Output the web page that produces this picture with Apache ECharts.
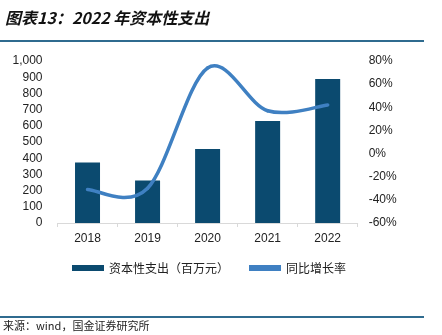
<!DOCTYPE html>
<html><head><meta charset="utf-8">
<script src="https://cdn.jsdelivr.net/npm/echarts@6/dist/echarts.min.js"></script>
<style>html,body{margin:0;padding:0;background:#fff}#c{width:442px;height:335px}</style>
</head><body><div id="c"></div>
<script>
var categories = ['2018','2019','2020','2021','2022'];
var capex = [374, 263, 457, 630, 889];
var growth = [-31, -30, 74, 37, 42];
var seriesNames = ['资本性支出（百万元）', '同比增长率'];
var titleText = '图表13：2022 年资本性支出';
var sourceText = '来源：wind，国金证券研究所';

var chart = echarts.init(document.getElementById('c'));
var font = '"Noto Sans CJK SC", "Liberation Sans", sans-serif';
var lineColor = '#3f80c2';

function renderSmooth(params, api) {
  var i = params.dataIndex;
  var n = categories.length;
  if (i >= n - 1) return null;
  function P(k) {
    k = Math.max(0, Math.min(n - 1, k));
    return api.coord([api.value(0, k), api.value(1, k)]);
  }
  var p0 = P(i - 1), p1 = P(i), p2 = P(i + 1), p3 = P(i + 2);
  var t = 1 / 6;
  return {
    type: 'bezierCurve',
    shape: {
      x1: p1[0], y1: p1[1], x2: p2[0], y2: p2[1],
      cpx1: p1[0] + (p2[0] - p0[0]) * t, cpy1: p1[1] + (p2[1] - p0[1]) * t,
      cpx2: p2[0] - (p3[0] - p1[0]) * t, cpy2: p2[1] - (p3[1] - p1[1]) * t
    },
    style: {stroke: lineColor, lineWidth: 3.5, fill: null, lineCap: 'round'}
  };
}

chart.setOption({
  animation: false,
  textStyle: {fontFamily: font},
  graphic: [
    {type:'text', left: 5, top: 10, style:{text: titleText, font: 'italic bold 16px "Noto Sans CJK SC", sans-serif', fill:'#111'}},
    {type:'rect', shape:{x:0, y:40, width:424, height:2}, style:{fill:'#2f6b8f'}},
    {type:'rect', shape:{x:0, y:316, width:424, height:2}, style:{fill:'#2f6b8f'}},
    {type:'text', left: 3, top: 320, style:{text: sourceText, font: '11px "Noto Sans CJK SC", monospace', fill:'#222'}}
  ],
  grid: {left: 57.5, right: 84.3, top: 61, bottom: 112},
  legend: {
    top: 257, left: 67,
    itemWidth: 32, itemHeight: 6, itemGap: 20,
    textStyle: {fontSize: 12, color: '#222', fontFamily: font},
    data: [
      {name: seriesNames[0], icon: 'rect'},
      {name: seriesNames[1], icon: 'path://M0,0 L32,0 L32,6 L0,6 Z', itemStyle: {color: lineColor}}
    ]
  },
  xAxis: {
    type: 'category', data: categories,
    axisLine: {lineStyle: {color: '#d9d9d9'}},
    axisTick: {show: true, length: 4, lineStyle: {color: '#d9d9d9'}},
    axisLabel: {color: '#222', fontSize: 12, margin: 10, fontFamily: 'Liberation Sans, sans-serif'}
  },
  yAxis: [
    {type:'value', min:0, max:1000, interval:100,
     splitLine:{show:false}, axisLine:{show:false}, axisTick:{show:false},
     axisLabel:{color:'#222', fontSize:12, margin:15, fontFamily:'Liberation Sans, sans-serif',
       formatter: function(v){return v.toLocaleString('en-US');}}},
    {type:'value', min:-60, max:80, interval:20,
     splitLine:{show:false}, axisLine:{show:false}, axisTick:{show:false},
     axisLabel:{color:'#222', fontSize:12, margin:11, fontFamily:'Liberation Sans, sans-serif',
       formatter: '{value}%'}}
  ],
  series: [
    {name: seriesNames[0], type:'bar', data: capex, barWidth: 25,
     itemStyle:{color:'#0b4a6f'}},
    {name: seriesNames[1], type:'custom', yAxisIndex:1, coordinateSystem:'cartesian2d',
     data: growth.map(function(v, i){ return [categories[i], v]; }),
     encode: {x: 0, y: 1},
     itemStyle: {color: lineColor},
     renderItem: renderSmooth, z: 3}
  ]
});
</script></body></html>
